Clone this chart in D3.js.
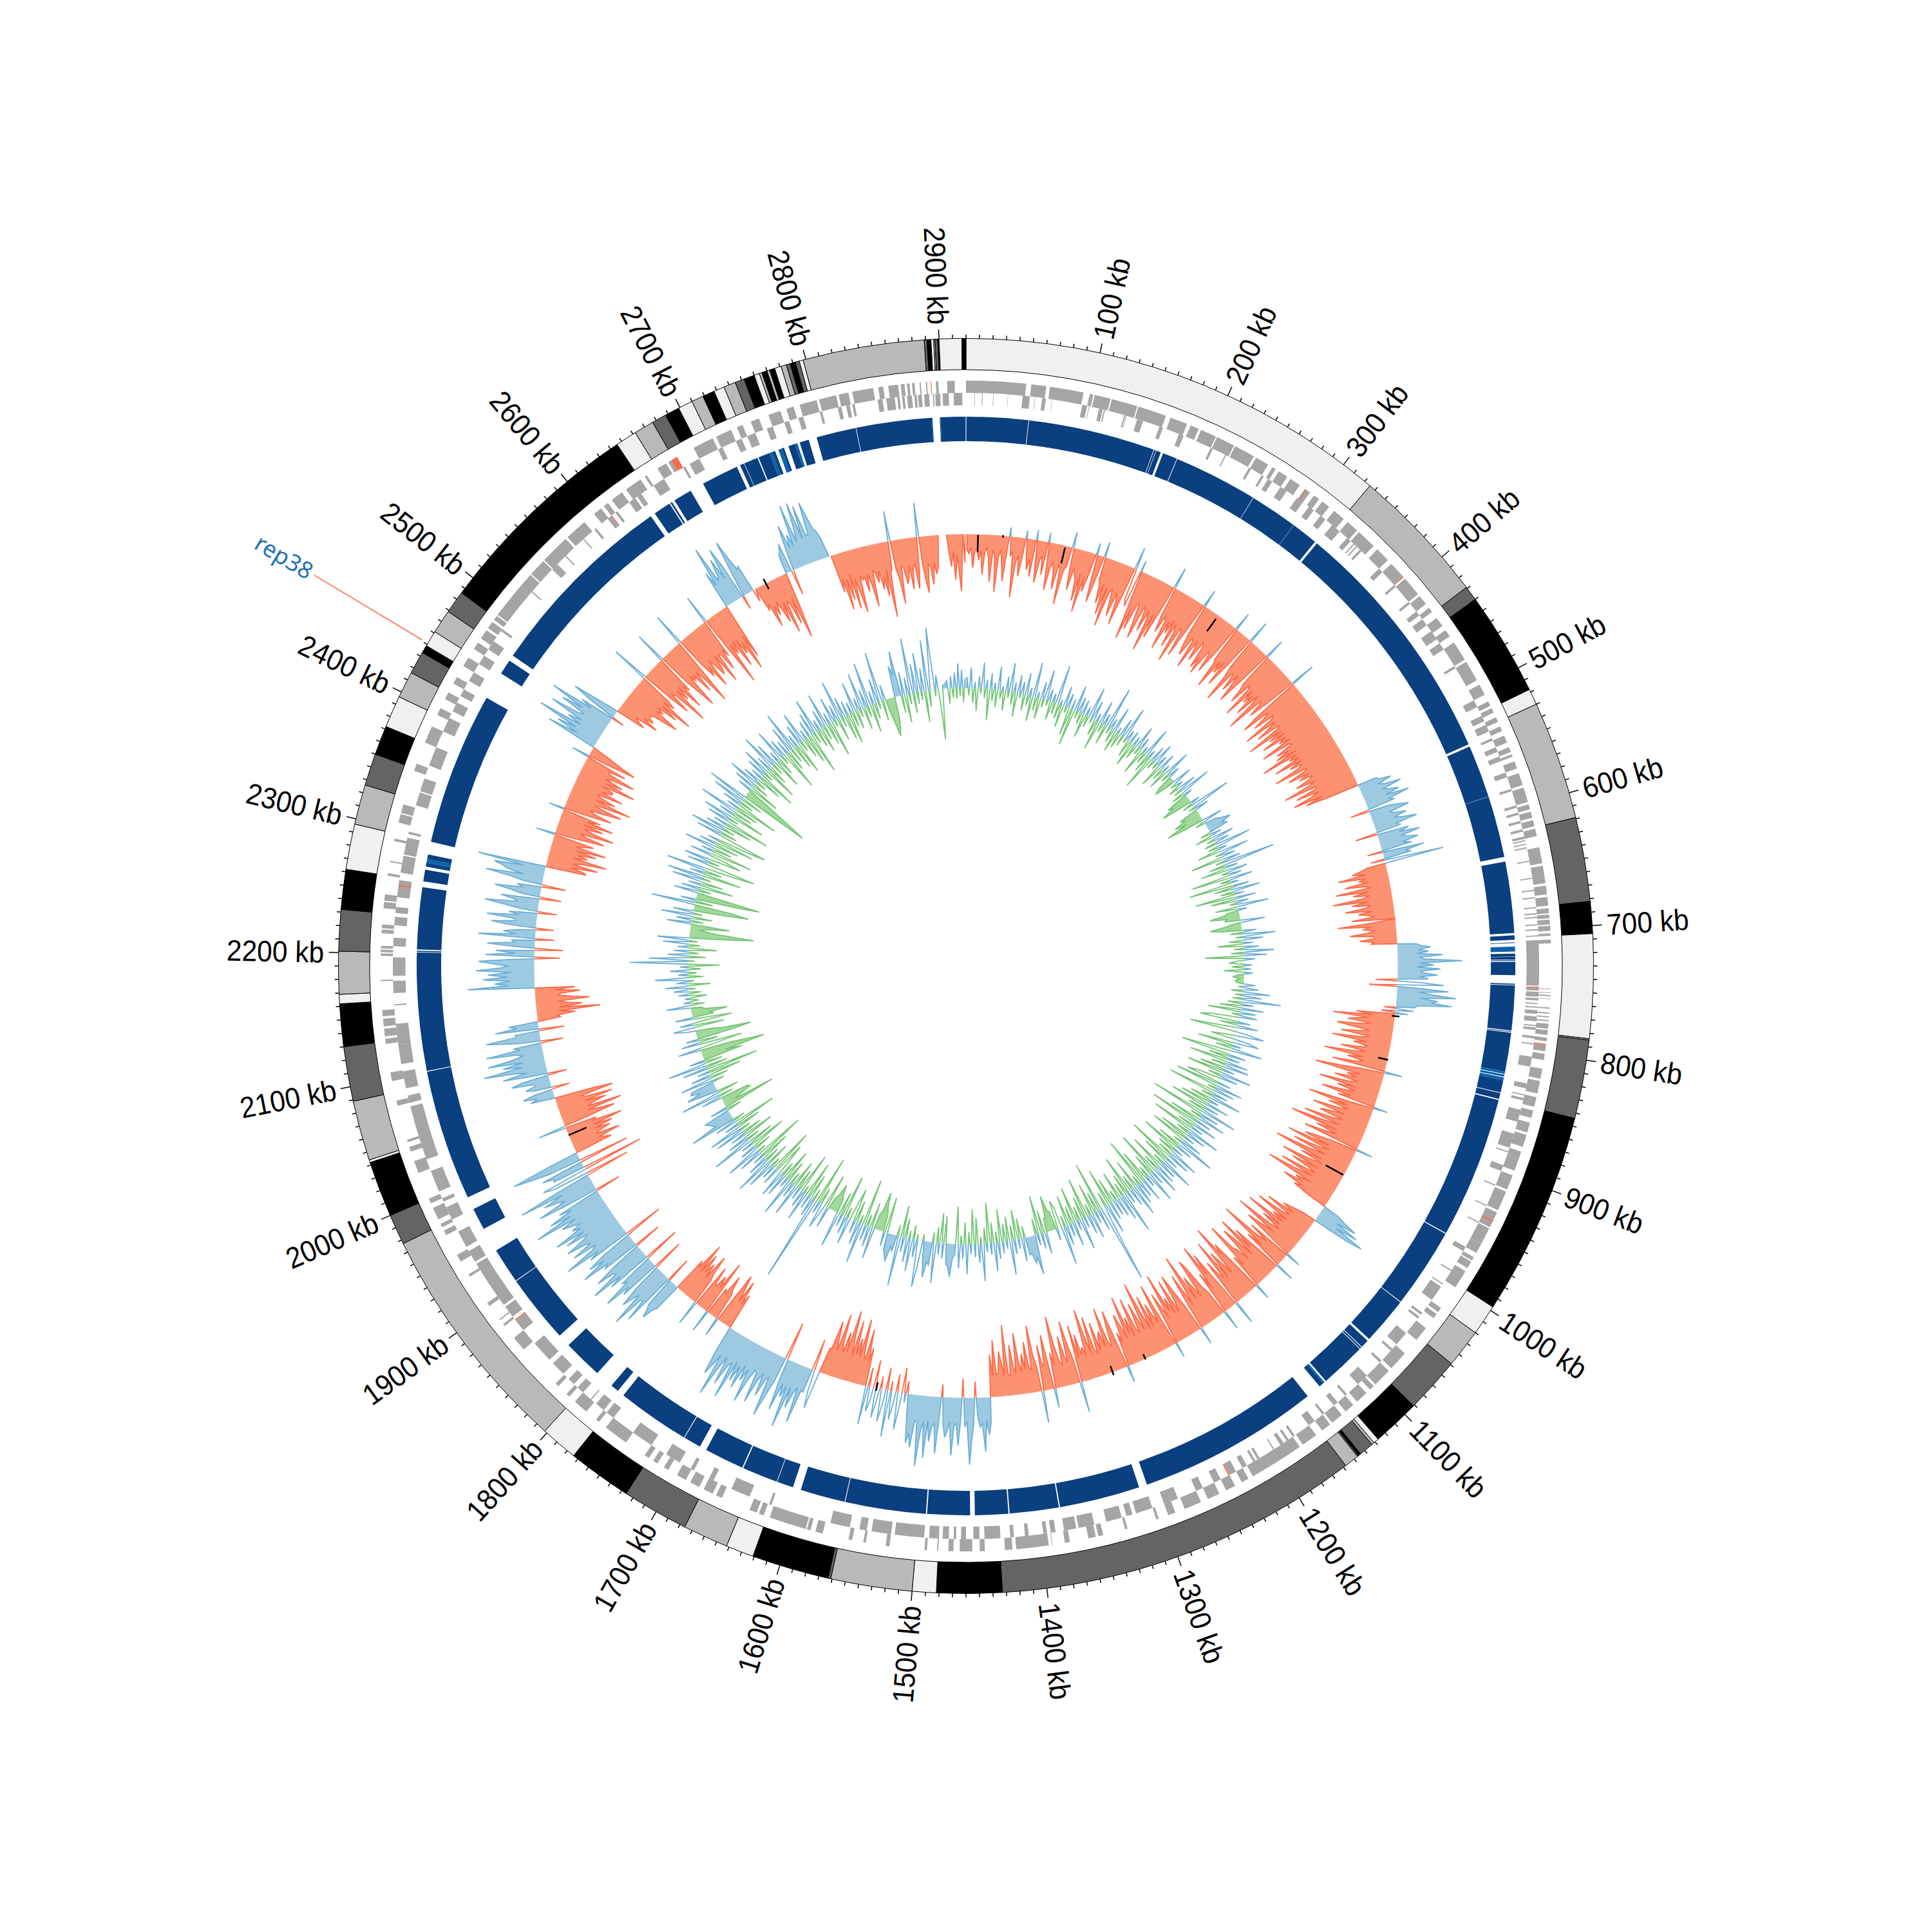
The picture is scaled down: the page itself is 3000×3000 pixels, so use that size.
<!DOCTYPE html>
<html><head><meta charset="utf-8">
<script src="https://cdnjs.cloudflare.com/ajax/libs/d3/7.8.5/d3.min.js"></script>
<style>html,body{margin:0;padding:0;background:#fff}</style></head>
<body><svg id="c" width="3000" height="3000"></svg>
<script>
const genomeKb=2920;
// outer ideogram: [start kb, end kb, shade index]
const bandList=[[0,325,0],[325,429,1],[429,440,2],[440,518,3],[518,530,0],[530,619,1],[619,682,2],[682,706,3],[706,784,0],[784,785,1],[785,844,2],[844,997,3],[997,1020,0],[1020,1049,1],[1049,1091,2],[1091,1127,3],[1127,1131,0],[1131,1133,1],[1133,1144,2],[1144,1146,3],[1146,1147,2],[1147,1158,1],[1158,1433,2],[1433,1482,3],[1482,1500,0],[1500,1561,1],[1561,1563,2],[1563,1621,3],[1621,1642,0],[1642,1676,1],[1676,1726,2],[1726,1774,3],[1774,1802,0],[1802,1977,1],[1977,2000,2],[2000,2042,3],[2042,2044,0],[2044,2089,1],[2089,2130,2],[2130,2162,3],[2162,2169,0],[2169,2201,1],[2201,2232,2],[2232,2262,3],[2262,2296,0],[2296,2326,1],[2326,2350,2],[2350,2372,3],[2372,2396,0],[2396,2416,1],[2416,2433,2],[2433,2439,3],[2439,2451,0],[2451,2469,1],[2469,2486,2],[2486,2646,3],[2646,2662,0],[2662,2677,1],[2677,2688,2],[2688,2699,3],[2699,2710,0],[2710,2719,1],[2719,2728,3],[2728,2736,0],[2736,2745,1],[2745,2752,2],[2752,2760,3],[2760,2764,0],[2764,2766,1],[2766,2770,3],[2770,2772,1],[2772,2776,3],[2776,2781,0],[2781,2785,1],[2785,2788,2],[2788,2792,3],[2792,2795,2],[2795,2798,0],[2798,2889,1],[2889,2891,2],[2891,2894,3],[2894,2896,0],[2896,2897,1],[2897,2899,2],[2899,2900,3],[2900,2917,0],[2917,2920,3]];
const shadeColors=["#f0f0f0","#b9b9b9","#646464","#000000"];
// gene rows
const genesOuter=[[0,48],[52,64],[67,94],[99,102],[103,116],[117,138],[139,162],[166,180],[183,190],[192,205],[206,221],[222,239],[241,252],[256,259],[262,270],[273,282],[287,292],[296,301],[304,311],[316,326],[330,340],[342,358],[362,374],[378,392],[394,410],[412,420],[424,428],[434,442],[446,452],[458,474],[476,493],[497,506],[512,516],[518,522],[526,530],[534,538],[542,548],[552,556],[558,560],[564,570],[574,584],[586,598],[600,604],[606,611],[613,618],[620,626],[635,648],[650,664],[666,673],[675,682],[684,688],[689,692],[693,697],[698,702],[704,706],[709,712],[748,748.6],[751,751.5],[753,754],[756,756.4],[763,764],[767,768],[770,771],[773,774],[776,780],[781,785],[787,790],[793,798],[800,805],[812,820],[822,832],[835,843],[846,852],[856,864],[866,876],[880,886],[886,896],[900,912],[914,930],[932,945],[946,960],[960,968],[972,975],[976,982],[985,1000],[1020,1024],[1026,1030],[1040,1052],[1066,1082],[1085,1100],[1102,1106],[1110,1120],[1124,1132],[1136,1146],[1148,1156],[1162,1175],[1178,1205],[1205,1222],[1226,1232],[1238,1246],[1252,1262],[1268,1282],[1290,1296],[1304,1306],[1330,1332],[1350,1354],[1356,1362],[1377,1381],[1391,1391.5],[1394,1420],[1423,1429],[1445,1449],[1455,1465],[1470,1474],[1482,1483],[1491,1493],[1521,1524],[1540,1542],[1551,1554],[1575,1581],[1585,1588],[1589,1619],[1624,1628],[1630,1636],[1660,1665],[1668,1676],[1680,1688],[1692,1700],[1708,1712],[1718,1722],[1726,1730],[1748,1768],[1775,1778],[1788,1800],[1806,1809],[1818,1821],[1858,1870],[1882,1884],[1888,1889],[1902,1905],[1930,1932],[1944,1950],[1968,1972],[1975,1978],[1982,1992],[1996,2000],[2022,2032],[2040,2044],[2048,2050],[2078,2082],[2098,2105],[2128,2132],[2134,2140],[2142,2148],[2150,2155],[2178,2179],[2198,2200],[2201,2203],[2204,2206],[2216,2219],[2220,2223],[2236,2241],[2242,2247],[2262,2264],[2273,2274],[2290,2292],[2305,2312],[2313,2320],[2348,2354],[2372,2386],[2396,2402],[2410,2416],[2424,2430],[2440,2448],[2456,2462],[2466,2474],[2476,2482],[2484,2488],[2489,2530],[2531,2545],[2546,2570],[2572,2590],[2600,2607],[2610,2614],[2618,2628],[2632,2646],[2650,2652],[2662,2670],[2672,2680],[2695,2712],[2715,2728],[2733,2738],[2745,2752],[2760,2770],[2775,2781],[2786,2800],[2802,2816],[2818,2826],[2829,2846],[2850,2854],[2858,2866],[2868,2871],[2873,2875],[2877,2879],[2883,2884],[2888,2889],[2896,2898],[2905,2911]];
const genesInner=[[7,7.4],[13,13.6],[22,22.4],[34,34.3],[46,52],[56,56.4],[62,65],[70,70.3],[95,99],[100.5,101],[109,112],[113,114],[130,131],[131.5,132],[141,146],[160,163],[177,181],[205,207],[218,219],[240,242],[252,254],[258,262],[270,276],[286,292],[298,303],[310,315],[322,330],[338,342],[345,346],[348,349],[352,354],[374,378],[392,394],[410,412],[420,424],[428,434],[440,448],[452,458],[474,476],[506,512],[520,525],[528,534],[540,542],[548,552],[556,560],[570,574],[584,586],[598,600],[604,606],[611,613],[618,620],[624,626],[627,628],[630,631],[633,634],[644,645],[658,659],[668,669],[674,675],[682,683],[687,688],[690,691],[696,697],[700,701],[705,706],[709,746],[747,750],[751,755],[756,758],[760,761],[763,764],[766,769],[771,775],[778,779],[780,782],[787,789],[793,794],[804,812],[826,830],[835,836],[838,840],[848,858],[868,880],[883,884],[895,900],[912,913],[930,931],[945,946],[968,972],[990,991],[1003,1004],[1006,1019],[1032,1034],[1036,1038],[1053,1065],[1070,1072],[1083,1085],[1100,1110],[1122,1124],[1132,1136],[1146,1148],[1156,1162],[1176,1178],[1182,1184],[1187,1190],[1196,1197],[1210,1212],[1214,1216],[1222,1226],[1232,1238],[1246,1252],[1262,1268],[1284,1296],[1306,1320],[1323,1328],[1332,1345],[1355,1368],[1370,1380],[1387,1391],[1394,1397],[1409,1412],[1421,1424],[1432,1445],[1449,1454],[1460,1464],[1468,1470],[1474,1479],[1482,1490],[1494,1518],[1521,1537],[1541,1547],[1555,1571],[1621,1623],[1640,1656],[1672,1676],[1690,1693],[1703,1716],[1730,1748],[1768,1775],[1778,1786],[1791,1792],[1800,1806],[1810,1816],[1822,1834],[1838,1856],[1870,1880],[1884,1894],[1896,1915],[1915,1936],[1938,1948],[1952,1966],[1977,1988],[1993,1996],[2002,2020],[2030,2075],[2078,2084],[2090,2104],[2110,2126],[2126,2143],[2158,2159],[2168,2178],[2182,2197],[2206,2213],[2223,2230],[2233,2238],[2246,2260],[2266,2280],[2281,2295],[2298,2300],[2322,2333],[2334,2345],[2356,2372],[2386,2398],[2404,2412],[2418,2424],[2432,2440],[2448,2456],[2462,2470],[2480,2482],[2520,2521],[2545,2551],[2560,2561],[2580,2581],[2592,2594],[2606,2610],[2614,2616],[2628,2634],[2636,2640],[2652,2662],[2680,2682],[2686,2695],[2712,2716],[2728,2733],[2738,2745],[2755,2760],[2770,2774],[2782,2786],[2800,2802],[2815,2818],[2822,2825],[2827,2829],[2848,2852],[2855,2862],[2864,2866],[2868,2870],[2872,2876],[2878,2880],[2881,2884],[2886,2890],[2893,2894],[2895,2899],[2901,2906],[2910,2917]];
const geneHitsOuter=[[288,288.6],[392,392.5],[792,793],[939,940],[2675,2680],[2891.8,2892.4]];
const geneHitsInner=[[747,747.6],[1238,1239],[2255,2256],[2610,2610.6],[1880,1881]];
// blue ring segments: [start kb, end kb, lighter?]
const blueSegs=[[0.3,53,0],[53.5,162,0],[162.5,164,0],[164.4,168.5,0],[170.5,183,0],[183.5,255.6,0],[256,296.8,0],[296.8,297.4,1],[297.4,320,0],[322,537,0],[539,584,0],[584,584.6,1],[584.6,637,0],[641,702,0],[704,707.8,0],[710,710.5,0],[713.5,717.8,1],[719.5,722,0],[722.3,724.5,0],[725,725.6,0],[726.5,737.8,0],[745,746,0],[746.5,784.7,0],[785.4,786,0],[786.6,820,0],[820,822,1],[822.6,824.4,1],[825,827.5,1],[827.5,838,0],[838.6,843.6,0],[844.6,966,0],[966.8,1035.6,0],[1036.2,1077,0],[1079,1086,0],[1086.6,1088,0],[1088.6,1128,0],[1129.5,1131,1],[1131,1135,0],[1148,1304,0],[1311,1380,0],[1381,1423,0],[1424,1452.5,0],[1456.5,1493,0],[1494,1563,0],[1563.6,1602,0],[1609,1623,0],[1623.5,1654,0],[1655,1689,0],[1695,1710,0],[1710.6,1773,0],[1779,1786,0],[1802,1836,0],[1847,1906,0],[1906.6,1937,0],[1958,1977,0],[1988,2100,0],[2100.6,2201.5,0],[2202,2203,0],[2204,2257,0],[2262,2272,0],[2274.6,2278,0],[2278,2281,1],[2281,2285,0],[2296,2427,0],[2451,2464,0],[2469,2636,0],[2640,2655,0],[2656,2657.5,0],[2660,2676,0],[2688,2720,0],[2723,2726.6,0],[2727,2739,0],[2740,2750,0],[2750,2752.5,1],[2752.5,2755,0],[2758,2761,1],[2761,2763,0],[2767,2773,0],[2773,2775,1],[2777,2785,0],[2792,2826,0],[2826.5,2891,0],[2891,2891.6,1],[2897.7,2898.4,1],[2898.4,2919.7,0]];
// track A: values per 100 kb (+ outward, - inward)
const outerHistA=[
[-24,-30,-20,-52,-26,-22,-40,-24,-62,-28,-20,-36,-73,-25,-30,-88,-34,-22,-45,-70,-26,14,-30,-24,-94,-40,-28,-60,-32,12,-26,-48,-30,-58,16,-34,-66,-30,-24,-52,15,-36,-74,-38,-30],
[-44,-70,-32,-36,-92,-38,-30,25,-34,-66,-30,-40,-48,-80,-36,-96,-42,-62,-34,18,-40,-75,-38,24,-36,-45,-72,-40,-88,-44,-105,-50,-42,-64,-84,-46,-58,-95,-44,35,-48,-60,18,-52,-110],
[-60,-92,-50,-48,-78,-102,-48,-52,-86,-50,-66,-114,-52,-90,-48,34,-50,-74,-46,-52,-98,-50,-68,-44,-88,-48,-60,-108,-50,-54,-94,-46,28,-50,-72,-84,-52,-56,-100,-50,-64,-82,-48,-54,-90],
[-70,-96,-54,-58,-86,-50,30,-56,-64,-104,-54,-74,-52,-92,-56,36,-52,-68,-110,-56,-60,-84,-52,-72,-98,-54,32,-56,-66,-88,-50,-58,-106,-54,-76,-60,-94,-52,-70,-116,-54,-62,-82,-50,40],
[-78,-104,-58,-66,-90,-56,-60,-112,-58,-72,-96,-56,-64,-118,-60,-84,-58,-100,-60,-74,-56,-108,-62,-58,-88,-68,-92,-58,-120,-62,-76,-60,-104,-58,-82,-62,-70,-112,-58,-64,-94,-60,-78,-56,-66]];
const outerHistB=[
[-88,-58,-70,-112,-60,-62,-96,-60,-74,-104,-58,-86,-50,30,34,52,30,38,64,32,42,56,34,70,36,44,-30,32,48,62,30,36,54,34,46,68,32,40,-35,50,34,66,36,44,60],
[34,48,-24,66,36,42,-22,93,-30,-40,-55,-34,-78,-36,-46,-34,-70,-38,-32,-86,-36,-60,-34,-48,-93,-38,-64,-36,-42,-76,-34,-56,-40,-32,-68,0,-36,-90,-38,-52,-34,-44,-72,-36,-34],
[-58,-36,-40,30,36,52,32,48,30,70,34,42,100,34,56,30,66,36,40,62,34,48,-34,36,72,-44,38,80,34,58,92,36,64,54,86,32,30,-18,28,-22,20,-60,-34,-96,-40,-58,-72,-36,-50,-88],
[-66,-36,-50,-80,-34,-44,-92,-38,-58,-36,-40,-76,-34,-55,-100,-38,-62,-36,-46,-84,28,-38,-70,-108,-36,-56,-40,-74,-36,-48,-96,-38,-66,-36,-52,-88,-40,-60,22,-38,-104,-40,-70,-36,-54],
[-92,-40,-64,-78,-38,-56,-100,-40,-68,-118,-42,-74,-38,-60,-90,26,-40,-66,-84,-42,-110,-38,-58,-96,-40,-70,-122,-42,-76,-38,-62,-104,-40,-84,-54,-40,-98,-42,-72,-116,-38,-64,-52,-82,-46]];
const outerHistC=[
[-60,-36,28,40,62,30,70,34,84,58,-20,-40,-55,-34,-80,-36,-48,-92,-36,-60,-38,-102,-40,-70,-36,-52,-110,-38,-64,-86,-40,24,-72,-38,-58,-118,-40,-66,30,-38,-84,-50,-108,-40,-74],
[-96,-40,-60,-68,-112,-38,-56,26,-40,-90,-72,-124,-40,-62,-84,-38,-108,-42,-52,-76,38,-40,-98,-64,-116,-42,-70,32,-38,-54,-90,-104,-40,-60,-80,-42,-120,-66,-38,-92,-50,28,-42,-74,-100],
[-58,-40,-96,-42,-70,-48,-112,-40,-62,-84,24,-38,-104,-42,-56,-76,-40,-92,-38,-68,-118,-42,-60,-88,-40,-50,-100,-38,-72,-44,-108,-40,-64,-82,-38,-54,26,-40,-94,-70,-38,-46,-102,-40,-66],
[-60,-38,-84,-36,-42,-96,-38,-68,-110,-36,-52,-40,-74,-36,-90,48,-38,-62,-100,-36,-46,-78,-34,-38,-66,-112,-36,-56,30,-38,-86,-44,-36,-72,50,-38,-58,-104,-36,-40,-80,-38,-62,-34,-50],
[-96,-34,-44,-78,-30,-34,-110,-32,-52,-70,-36,-34,-88,-32,-66,40,58,36,84,40,46,30,-25,42,66,104,38,44,-30,36,74,40,44,90,38,52,62,40,-20,36,88,42,46,70,38]];
const outerHistD=[
[96,40,56,110,42,40,82,60,76,30,-20,14,-40,22,58,-28,18,44,-16,72,-36,24,50,-20,18,46,-44,20,38,-30,60,-60,-38,-88,-40,-48,-102,-42,-70,-44,-96,-40,-66,-110,-44],
[-74,-42,-52,-100,-40,-58,-86,-42,-40,0,60,34,-50,38,36,90,34,46,70,38,104,40,58,38,82,36,-60,40,66,100,38,44,72,36,50,88,40,38,56,94,42,62,38,78,44],
[70,40,102,44,54,86,42,60,110,44,64,80,42,-58,-40,-78,-42,-66,-84,-40,30,-44,-50,-72,-40,-46,36,-88,-42,-60,-40,-44,-70,40,-42,-52,-82,-40,-64,-46,-76,-42,-90,-44,-56],
[46,52,70,58,50,-40,88,52,54,104,50,60,78,48,-50,66,52,94,50,56,-58,72,50,100,54,56,84,50,-44,62,52,96,54,80,50,-62,70,52,108,58,50,88,54,64,92],
[60,50,86,52,100,54,66,50,64,78,52,118,56,90,50,70,-40,54,98,52,62,84,50,120,54,-70,56,74,-97,52,50,68,-80,54,82,110,48,-60,-50,-44,-78,-40,-48,-66,-42]];
const outerHistE=[
[-72,-42,-90,-44,-50,44,-40,-84,-60,-42,-98,-44,-54,-76,-42,-88,-46,-40,-92,-64,0,38,26,48,30,-28,28,40,24,26,60,42,-30,30,70,32,54,98,36,66,34,88,50,32,40],
[88,34,44,-35,32,60,84,36,38,-40,68,34,46,0,-36,-32,-60,-34,-99,-36,-72,-50,-34,-84,-58,-36,-40,-70,-30,-62,104,40,62,38,80,42,72,36,90,54,40,66,86,38,-40],
[76,30,60,-44,28,74,32,36,-30,88,30,50,28,-28,42,70,32,34,78,28,44,-30,30,54,84,32,40,60,-34,30,46,72,28,38,-38,30,52,90,32,58,66,80,34,107,-64],
[-58,-38,-80,-40,-52,-92,-38,-60,-44,-72,-40,-86,-38,-50,-64,30,-40,-78,-48,-38,-90,-56,-40,-70,-38,-84,-42,-62,24,-38,-76,-46,-40,-66,-88,-42,-54,-100,-40,-72,-48,-38,-80,-44,-60],
[-60,-40,-93,-44,-70,-40,-52,-86,-42,-40,-66,28,-42,-78,-50,-30,0,82,34,70,40,106,36,60,38,94,50,40,82,48,104,36,56,-20,44,76,38,0,-48,-36,-30,-66,-40,-56,-46]];
const outerHistF=[
[-46,-50,-70,-90,-48,-58,-46,-80,-50,-102,-48,-66,-52,60,-50,-84,-48,-56,-110,-50,-72,-48,-92,-52,-64,50,-50,-78,-104,-48,-60,-52,-86,-50,-68,-112,-48,52,-50,-74,-58,-96,-50,-62,-82],
[-72,-50,-100,-52,-56,-84,-50,-64,46,-50,-118,-52,-70,-50,-96,-52,-78,-60,-108,-52,-90,60,36,100,40,48,74,38,88,58,-22,36,92,62,40,44,-20,0,-40,-30,-70,-36,-54,-32,-48],
[-70,-38,-90,-40,-46,-80,-38,-105,-60,30,34,46,-40,30,72,34,54,36,100,38,60,100,40,92,44,42,94,70,48,44,30,0,0,-60,-40,-90,-42,-76,-36,-92,-44,-68,-100,-44,-50],
[-46,-70,-42,-62,-96,-40,-44,-60,-42,-72,-54,-84,-42,-118,-50,-42,47,-44,-60,-100,-42,-44,-70,-62,-42,-80,-46,-42,-80,-53,53,-42,-70,-88,-44,-48,-76,-42,-60,-50,0,0,0,0,0],
[-30,-50,-26,-70,-32,-60,-88,0,-44]];
// track B values per 100 kb
const innerHistA=[
[28,-22,44,-35,18,-48,30,-18,52,-26,24,-60,36,-30,20,-40,48,-24,14,-44,34,-20,56,-32,26,-50,40,-16,30,-38],
[46,-28,22,-52,64,-34,18,-46,38,-24,58,-18,30,-42,24,-30,70,-36,16,-48,44,-20,34,-56,26,-68,52,-22,36,-30],
[34,-50,24,-30,60,-18,42,-38,22,-58,48,-26,30,-44,74,-20,28,-34,52,-46,18,-36,40,-28,62,-16,26,-40,30,-52],
[24,-36,48,-22,32,-54,18,-30,58,-42,22,-66,36,-26,46,-20,28,-50,38,-32,20,-44,54,-24,30,-38,-46,-28,42,-20],
[18,-30,40,-24,60,-34,22,-48,-40,-60,-36,26,-28,72,-20,34,-44,-36,-56,-38,-70,-42,44,-26,30,38,52,36,44,-28]];
const innerHistB=[
[28,-40,46,-22,36,-30,66,-26,24,-48,58,-18,34,-62,40,-24,86,-38,30,-54,44,-20,32,-70,48,-28,22,-76,38,-42],
[54,-34,26,-72,44,-52,30,-22,60,-48,24,-30,-36,-58,-32,-36,50,-24,-40,-60,-46,34,-30,62,-20,44,-34,26,-52,36],
[-26,58,-32,48,-70,28,-18,-36,22,-30,20,-44,24,-18,-28,-14,-24,-20,30,-16,36,-30,54,-22,42,-26,70,-34,30,-46],
[48,-62,36,-24,40,-56,-70,30,-40,44,-30,-80,28,56,-20,-50,34,52,-66,24,-38,60,-28,-84,38,-44,30,-70,46,-36],
[50,-52,28,-68,58,-34,40,-48,-64,32,-76,54,-24,44,-82,36,-30,60,-46,26,-58,48,-70,34,-40,66,-90,42,-28,56]];
const innerHistC=[
[-60,36,-84,50,-40,30,-76,62,-34,44,-58,28,-68,46,-24,70,-50,38,-72,26,-42,58,-36,48,-80,32,-54,64,-30,40],
[-66,44,-38,56,-78,34,-48,60,-30,28,-62,50,-82,38,-26,46,-58,60,-36,40,-70,30,-46,74,-34,52,-56,42,-28,36],
[-52,40,-70,58,-36,34,116,-84,46,-44,30,-60,52,-30,42,-72,28,-48,60,-34,26,-66,50,-40,32,-58,44,-28,70,-46],
[-56,30,-42,-44,-66,-34,-34,46,-48,36,-70,28,-38,70,46,54,38,40,-30,48,-44,26,-58,34,-36,64,-50,22,-40,30],
[-62,38,-28,56,-44,30,-72,24,-36,68,-20,42,-52,32,-64,26,-30,58,-46,34,-24,50,-68,28,34,62,48,44,-54,36]];
const innerHistD=[
[-58,30,-36,72,-26,48,44,66,40,-20,54,80,-18,40,-34,62,-22,50,-42,36,-60,84,-28,38,30,54,46,38,-66,34],
[-40,-50,-70,-44,-34,60,-52,44,-30,36,-80,72,-24,48,-46,32,-62,-34,54,-28,40,-74,30,-48,66,-34,-40,-56,-36,-30],
[46,-64,24,52,-38,30,-82,125,-28,44,-50,34,-66,58,-22,40,-72,30,-44,62,-54,36,-30,70,-46,26,-60,48,-36,54],
[-30,-62,40,-78,34,-26,56,-48,70,-36,44,-58,28,-84,50,-24,66,-40,38,-68,30,-52,74,-32,46,-60,36,-44,58,-28],
[64,-50,34,-76,46,-30,80,42,46,50,54,-36,40,-88,-30,-44,-60,-56,44,-34,72,-46,28,60,38,52,50,-30,62,-40]];
const innerHistE=[
[44,-62,30,-86,52,-46,70,-40,36,-72,-50,-100,-80,-60,48,-32,-76,40,-44,30,-64,-90,-54,-38,26,46,-58,34,-28,-70],
[40,-46,-40,-66,-34,-26,50,-34,20,-24,16,-40,28,-30,36,-20,48,-46,30,-18,62,-36,26,-24,40,-32,22,-60,93,-20],
[70,-40,44,-28,34,-56,28,-30,52,-24,60,-44,-80,-100,-50,-26,-40,-70,50,-30,36,-44,60,-26,44,-60,-90,-66,76,-40],
[36,-72,-100,-54,50,-32,40,-64,30,-48,58,-26,66,-70,34,-40,71,-56,-84,44,-30,52,-62,-36,46,-74,30,-42,60,-50],
[40,-70,28,-60,-84,52,-38,64,-30,44,-56,34,-78,48,-26,58,-66,36,-44,70,-50,30,-76,42,-34,62,-46,73,-60,-107]];
const innerHistF=[
[-84,-50,34,-60,46,-38,60,-28,40,-52,30,-70,44,-26,56,-64,36,-44,68,-30,50,-58,28,-40,62,-24,42,-72,34,-46],
[54,-36,72,-50,30,-62,44,-28,60,-44,26,-56,38,-74,48,-30,66,-40,28,-52,42,-34,64,-46,30,-66,52,-20,36,-48],
[70,-28,44,-52,34,-60,28,-36,58,-42,30,-24,66,-48,40,-30,76,-56,32,-38,50,-22,84,-44,36,-26,-50,-70,-60,-46],
[60,46,78,-40,48,-56,38,-28,90,-44,56,-30,70,-24,48,-60,84,-38,40,98,-20,34,-30,-84,12,14,22,-36,30,-26],
[36,-28,50,-22,40,-34,26]];
// short black marks on track A
const blackKb=[13,40,108,290,784,831.7,965,1261,1299,1557,2003,2696];
const blackLo=[-28,-3,-28,-30,-5,-15,-32,-8,-10,-10,-30,-10];
const blackHi=[-1,1,-3,-6,7,1,-1,1,5,4,0,8];
const repeatLabel="rep38", repeatKb=2441;

const TAU=2*Math.PI, ang=d3.scaleLinear().domain([0,genomeKb]).range([0,TAU]);
const svg=d3.select("#c"), g=svg.append("g").attr("transform","translate(1500,1500)");
const rOut=974.5,rIn=926;
const arc=d3.arc();

// bands
g.append("g").selectAll("path").data(bandList).join("path")
 .attr("d",d=>arc({innerRadius:rIn,outerRadius:rOut,startAngle:ang(d[0]),endAngle:ang(d[1])}))
 .attr("fill",d=>shadeColors[d[2]]).attr("stroke","#000").attr("stroke-width",1);

// ticks
const tickKb=d3.range(0,genomeKb,10);
g.append("g").selectAll("line").data(tickKb).join("line")
 .each(function(k){const a=ang(k)-Math.PI/2,maj=k>0&&k%100==0,r2=rOut+(maj?15:6);
  d3.select(this).attr("x1",rOut*Math.cos(a)).attr("y1",rOut*Math.sin(a)).attr("x2",r2*Math.cos(a)).attr("y2",r2*Math.sin(a));})
 .attr("stroke","#000").attr("stroke-width",1.5);
const labelKb=d3.range(100,2901,100);
g.append("g").selectAll("text").data(labelKb).join("text")
 .text(k=>k+" kb")
 .attr("font-family","'Liberation Sans',sans-serif").attr("font-size",46)
 .attr("dy","0.35em")
 .attr("text-anchor",k=>ang(k)<Math.PI?"start":"end")
 .attr("transform",k=>{const d=ang(k)*180/Math.PI,rd=d<180?d-90:d+90;const a=ang(k)-Math.PI/2,r=997;
   return `translate(${r*Math.cos(a)},${r*Math.sin(a)}) rotate(${rd}) scale(0.925,1)`;});

// repeat label
{const a=ang(repeatKb)-Math.PI/2,d=ang(repeatKb)*180/Math.PI;
 g.append("line").attr("x1",985*Math.cos(a)).attr("y1",985*Math.sin(a)).attr("x2",1180*Math.cos(a)).attr("y2",1180*Math.sin(a)).attr("stroke","#fb6a4a").attr("stroke-width",1.5);
 g.append("text").text(repeatLabel).attr("font-family","'Noto Sans',sans-serif").attr("font-size",36).attr("fill","#2171b5")
  .attr("text-anchor","end").attr("dy","0.35em").attr("transform",`translate(${1186*Math.cos(a)},${1186*Math.sin(a)}) rotate(${d+90})`);}

// genes
function geneRow(list,r0,r1,col){g.append("g").selectAll("path").data(list).join("path")
 .attr("d",d=>arc({innerRadius:r0,outerRadius:r1,startAngle:ang(d[0]),endAngle:ang(d[1])})).attr("fill",col);}
geneRow(genesOuter,890,909,"#a5a5a5");geneRow(genesInner,870.5,890,"#a5a5a5");
geneRow(geneHitsOuter,890,909,"#fb6a4a");geneRow(geneHitsInner,870.5,890,"#fb6a4a");

// blue ring
g.append("g").selectAll("path").data(blueSegs).join("path")
 .attr("d",d=>arc({innerRadius:815,outerRadius:853,startAngle:ang(d[0]),endAngle:ang(d[1])})).attr("fill",d=>d[2]?"#0a63a8":"#0a3f80");

// histograms
function flatten(blocks){const rows=blocks.flat(),pts=[];
 rows.forEach((row,i)=>{const span=Math.min(100,genomeKb-i*100);row.forEach((v,j)=>pts.push({kb:i*100+(j+0.5)/row.length*span,v}));});
 return pts;}
function runs(pts,sign){const out=[];let cur=null;
 for(let i=0;i<pts.length;i++){const p=pts[i],ok=p.v*sign>0;
  if(ok){if(!cur){cur=[];const q=pts[i-1];
     if(q){const t=q.v/(q.v-p.v);cur.push({kb:q.kb+(p.kb-q.kb)*t,v:0});}else cur.push({kb:p.kb,v:0});}
   cur.push(p);}
  else if(cur){const q=pts[i-1],t=q.v/(q.v-p.v);cur.push({kb:q.kb+(p.kb-q.kb)*t,v:0});out.push(cur);cur=null;}}
 if(cur){cur.push({kb:cur[cur.length-1].kb,v:0});out.push(cur);}
 return out;}
function drawHist(blocks,r0,exponent,posS,posF,negS,negF){const pts=flatten(blocks);
 const mag=d3.scalePow().exponent(exponent).domain([0,100]).range([0,100]);
 const rad=d=>r0+Math.sign(d.v)*mag(Math.abs(d.v));
 const area=d3.areaRadial().angle(d=>ang(d.kb)).innerRadius(r0).outerRadius(rad);
 const line=d3.lineRadial().angle(d=>ang(d.kb)).radius(rad);
 [[-1,negS,negF],[1,posS,posF]].forEach(([s,st,fi])=>{const R=runs(pts,s);
  const gg=g.append("g");
  gg.selectAll("path.f").data(R.filter(r=>r.length>=5)).join("path").attr("class","f").attr("d",area).attr("fill",fi);
  gg.selectAll("path.l").data(R).join("path").attr("class","l").attr("d",line).attr("fill","none").attr("stroke",st).attr("stroke-width",1.8);});}
drawHist([outerHistA,outerHistB,outerHistC,outerHistD,outerHistE,outerHistF],670.5,1,"#6baed6","#9ecae1","#fb6a4a","#fd9272");
drawHist([innerHistA,innerHistB,innerHistC,innerHistD,innerHistE,innerHistF],432,1.4,"#6baed6","#9ecae1","#74c476","#a1d99b");
g.append("g").selectAll("line").data(blackKb).join("line").each(function(k,i){const a=ang(k)-Math.PI/2,r1=670.5+blackLo[i],r2=670.5+blackHi[i];
 d3.select(this).attr("x1",r1*Math.cos(a)).attr("y1",r1*Math.sin(a)).attr("x2",r2*Math.cos(a)).attr("y2",r2*Math.sin(a));}).attr("stroke","#000").attr("stroke-width",2.5);
</script></body></html>
